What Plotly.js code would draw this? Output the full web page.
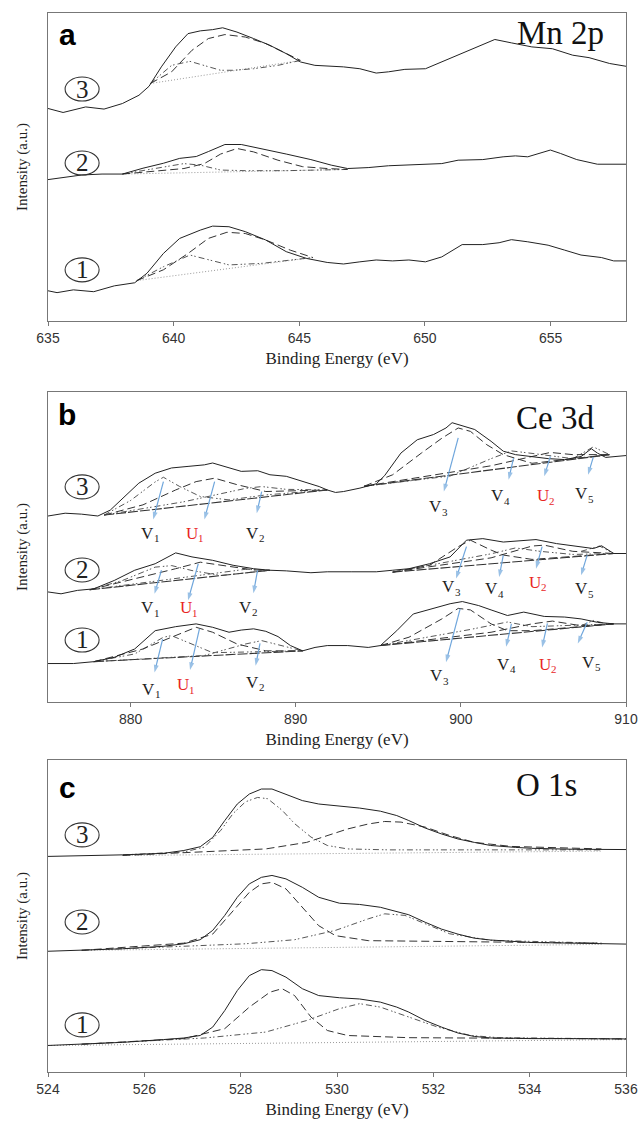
<!DOCTYPE html>
<html><head><meta charset="utf-8">
<script src="https://cdn.plot.ly/plotly-3.0.1.min.js"></script>
<style>html,body{margin:0;padding:0;background:#fff}</style>
</head><body><div id="chart" style="width:641px;height:1123px"></div>
<script>
// ---------- Panel a : Mn 2p ----------
const mnE3 = [635,635.6,636.5,637.23,637.96,638.62,639.02,639.51,640.08,640.57,641.06,641.55,641.95,642.52,643.18,643.83,644.48,645.05,645.62,646.11,646.76,647.41,648.06,648.55,649.2,650.02,650.67,651.48,652.13,652.78,653.44,654.25,655.07,655.88,656.53,657.35,658];
const mnI3 = [69.0,67.7,69.5,68.8,70.6,73.3,76.2,82.5,89.0,93.3,94.2,94.6,95.2,93.8,91.7,89.5,86.8,84.1,83.0,82.8,82.5,81.9,80.5,80.9,81.7,81.9,84.1,86.8,89.0,91.4,90.3,89.0,88.4,86.3,85.5,83.6,82.7];
const mnBaseE3 = [639.07,645.05], mnBaseI3 = [77.1,84.6];
const mnPkAE3 = [639.07,639.92,640.65,641.22,641.87,642.36,643.18,644.15,645.05];
const mnPkAI3 = [77.1,83.0,84.3,83.0,81.4,81.4,81.9,83.0,84.6];
const mnPkBE3 = [639.07,639.92,640.73,641.38,642.04,642.85,643.66,644.48,645.05];
const mnPkBI3 = [77.1,80.9,87.9,91.7,93.0,92.2,90.1,86.8,84.6];

const mnE2 = [635,635.68,636.34,637.15,637.96,638.78,639.59,640.24,640.9,641.38,642.04,642.69,643.5,644.48,645.46,646.27,646.92,647.74,648.55,649.36,650.02,650.67,651.32,652.3,653.11,653.6,654.09,654.58,654.99,655.39,656.04,656.86,657.51,658];
const mnI2 = [45.9,46.6,47.4,47.7,47.7,49.6,51.2,52.8,53.4,55.0,57.3,57.3,56.0,54.2,52.4,50.6,49.5,49.8,50.4,50.6,50.8,51.1,52.2,52.4,53.3,53.6,53.3,54.6,55.5,54.4,52.4,50.9,50.9,50.9];
const mnBaseE2 = [637.96,646.92], mnBaseI2 = [47.7,49.2];
const mnPkAE2 = [637.96,639.27,640.41,641.06,641.87,642.85,644.48,646.92];
const mnPkAI2 = [47.7,49.5,51.1,50.6,49.0,48.8,48.8,49.2];
const mnPkBE2 = [637.96,640.41,641.22,641.87,642.52,643.18,644.15,645.13,646.11,646.92];
const mnPkBI2 = [47.7,49.5,51.1,54.2,56.0,54.9,52.2,50.1,49.5,49.2];

const mnE1 = [635,635.36,636.01,636.82,637.64,638.45,638.94,639.59,640.24,641.06,641.55,642.2,642.85,643.66,644.48,645.29,646.11,646.76,647.41,648.06,648.71,649.36,650.02,650.67,651.48,652.3,652.95,653.44,654.09,654.9,655.56,656.21,657.02,657.51,658];
const mnI1 = [9.8,9.2,10.1,9.5,11.4,12.4,15.5,21.9,26.8,29.5,30.8,30.6,29.0,26.3,22.5,20.3,19.0,18.5,19.2,19.8,19.5,19.8,19.2,20.8,24.8,24.8,25.4,26.4,25.7,24.6,23.0,21.4,20.6,19.5,19.5];
const mnBaseE1 = [638.53,645.54], mnBaseI1 = [13.1,20.6];
const mnPkAE1 = [638.53,639.59,640.65,641.22,642.2,643.5,644.48,645.54];
const mnPkAI1 = [13.1,17.6,21.4,20.3,18.2,18.7,19.6,20.6];
const mnPkBE1 = [638.53,639.59,640.57,641.38,642.12,642.85,643.66,644.64,645.54];
const mnPkBI1 = [13.1,16.6,21.9,26.8,28.8,28.4,26.3,23.0,20.6];

// ---------- Panel b : Ce 3d ----------
const ceE3 = [875,876.04,877.03,878.02,878.77,879.51,880.5,881.49,882.48,883.48,884.47,884.97,885.71,886.7,887.7,888.44,889.43,890.42,891.42,891.91,892.41,892.9,893.89,894.88,895.38,896.37,897.36,898.35,899.1,899.47,900.09,900.84,901.83,902.57,903.31,904.31,905.3,906.29,907.28,907.9,908.27,908.77,909.51,910];
const ceI3 = [60.0,60.9,60.6,60.0,61.9,65.7,70.6,73.8,75.5,76.0,76.5,77.1,76.0,74.4,74.6,73.3,72.8,71.2,69.5,68.4,67.6,67.9,69.0,70.4,73.0,80.3,84.6,86.3,88.4,90.1,89.2,87.9,84.1,80.9,79.8,79.2,78.5,78.2,79.2,81.7,80.3,78.9,79.2,79.5];
const ceBaseLE3 = [878.4,891.91], ceBaseLI3 = [60.3,68.4];
const ceBaseRE3 = [894.14,909.0], ceBaseRI3 = [69.6,79.8];
const ceV1E3 = [878.4,880.0,881.49,881.99,882.98,884.22,885.96,888.19,891.91];
const ceV1I3 = [60.3,65.0,71.0,72.5,69.5,66.3,65.2,66.8,68.4];
const ceU1E3 = [878.4,880.75,882.73,883.97,885.09,886.45,888.19,891.91];
const ceU1I3 = [60.3,63.6,68.4,71.1,72.2,70.1,67.9,68.4];
const ceV2E3 = [878.4,883.23,886.95,887.94,889.43,891.91];
const ceV2I3 = [60.3,64.6,68.9,69.5,68.6,68.4];
const ceV3E3 = [894.14,895.87,897.61,898.85,899.84,900.58,901.57,902.57,904.31,909.0];
const ceV3I3 = [69.6,73.3,80.3,85.1,88.4,87.3,83.0,79.8,77.0,79.8];
const ceV4E3 = [894.14,899.35,901.83,903.06,904.31,906.78,909.0];
const ceV4I3 = [69.6,72.9,78.5,81.0,80.2,78.5,79.8];
const ceU2E3 = [894.14,901.83,904.31,905.42,906.78,909.0];
const ceU2I3 = [69.6,76.2,79.2,80.5,79.8,79.8];
const ceV5E3 = [906.78,908.02,909.0];
const ceV5I3 = [78.5,82.3,79.8];

const ceE2 = [875,875.79,876.78,877.77,879.01,880.25,881.49,882.73,883.72,884.97,886.21,887.45,888.44,889.43,890.92,891.91,893.4,894.88,895.87,896.86,898.1,899.35,900.34,901.33,902.57,903.81,904.55,905.79,907.28,908.02,908.52,909.26,910];
const ceI2 = [35.5,34.9,36.0,36.5,39.2,42.5,44.6,48.1,46.8,45.7,44.1,43.0,42.5,42.3,41.7,42.0,42.0,42.0,42.5,43.0,44.6,46.8,52.2,52.7,51.6,52.2,52.4,51.1,50.0,49.5,50.4,47.9,47.9];
const ceBaseLE2 = [877.53,888.44], ceBaseLI2 = [36.2,42.5];
const ceBaseRE2 = [895.87,909.26], ceBaseRI2 = [41.9,47.9];
const ceV1E2 = [877.53,879.51,881.49,882.49,883.72,885.46,888.44];
const ceV1I2 = [36.2,39.2,43.5,44.0,42.4,40.8,42.5];
const ceU1E2 = [877.53,880.75,882.73,884.22,885.71,887.45,888.44];
const ceU1I2 = [36.2,40.3,43.0,45.1,44.0,42.6,42.5];
const ceV2E2 = [877.53,883.23,886.95,888.44];
const ceV2I2 = [36.2,40.3,42.8,42.5];
const ceV3E2 = [895.87,898.1,899.84,900.58,901.83,902.57,904.31,909.26];
const ceV3I2 = [41.9,44.1,50.1,52.2,49.0,47.4,46.0,47.9];
const ceV4E2 = [895.87,899.35,901.83,903.31,904.8,906.78,909.26];
const ceV4I2 = [41.9,45.4,47.8,49.7,48.6,47.6,47.9];
const ceU2E2 = [895.87,901.83,904.31,905.05,906.78,909.26];
const ceU2I2 = [41.9,46.5,50.3,50.6,48.6,47.9];
const ceV5E2 = [907.28,908.4,909.26];
const ceV5I2 = [48.6,50.3,47.9];

const ceE1 = [875,876.54,877.77,879.01,880.25,881.49,882.73,883.97,884.97,885.96,886.7,887.45,888.19,888.93,889.68,890.42,891.17,891.91,893.15,894.39,895.13,896.12,897.12,898.35,899.35,900.09,901.08,901.83,902.82,903.81,905.05,906.29,907.28,908.27,909.26,910];
const ceI1 = [12.4,12.4,13.0,14.4,17.1,23.0,24.3,25.2,24.1,22.5,23.2,23.6,22.8,21.1,18.2,16.5,17.6,18.2,18.2,17.6,18.2,23.0,28.4,30.1,31.7,32.4,31.1,29.7,27.9,29.0,27.6,27.4,26.8,25.7,25.2,25.2];
const ceBaseLE1 = [877.77,890.42], ceBaseLI1 = [13.0,16.5];
const ceBaseRE1 = [895.13,909.26], ceBaseRI1 = [18.2,25.2];
const ceV1E1 = [877.77,880.25,881.99,882.48,883.48,884.97,890.42];
const ceV1I1 = [13.0,15.5,20.9,21.4,19.2,15.9,16.5];
const ceU1E1 = [877.77,880.75,882.48,883.97,884.97,886.45,888.19,890.42];
const ceU1I1 = [13.0,17.1,20.9,24.1,22.5,18.7,16.5,16.5];
const ceV2E1 = [877.77,884.47,886.95,887.94,889.43,890.42];
const ceV2I1 = [13.0,15.0,18.7,19.8,17.8,16.5];
const ceV3E1 = [895.13,896.86,898.85,899.84,900.58,901.83,902.82,904.31,909.26];
const ceV3I1 = [18.2,20.9,26.8,30.2,29.7,25.2,23.0,23.0,25.2];
const ceV4E1 = [895.13,900.58,902.82,903.56,904.31,909.26];
const ceV4I1 = [18.2,23.4,25.8,25.0,24.3,25.2];
const ceU2E1 = [895.13,901.83,904.31,905.54,907.28,909.26];
const ceU2I1 = [18.2,22.5,25.2,26.1,24.6,25.2];
const ceV5E1 = [907.28,908.02,909.01];
const ceV5I1 = [24.6,26.3,25.0];

// peak labels of panel b (letter + subscript)
const ceLabelLetters = ['V','U','V','V','V','U','V'];
const ceLabelSubs = ['1','1','2','3','4','2','5'];
const ceLabelE3 = [881.25,883.92,887.57,898.65,902.44,905.17,907.52];
const ceLabelI3 = [54.4,54.4,54.4,63.0,66.5,66.5,67.1];
const ceLabelE2 = [881.25,883.53,887.2,899.47,902.07,904.67,907.52];
const ceLabelI2 = [30.4,30.4,30.6,37.1,36.5,38.7,36.5];
const ceLabelE1 = [881.3,883.35,887.57,898.72,902.81,905.29,907.97];
const ceLabelI1 = [4.1,5.5,6.3,8.4,12.2,12.2,12.8];
const ceArrowFromE3 = [881.99,885.09,887.94,899.84,903.19,905.42,908.02];
const ceArrowFromI3 = [71.1,71.1,67.9,85.2,78.7,79.2,79.0];
const ceArrowToE3 = [881.37,884.47,887.64,898.97,902.89,905.05,907.7];
const ceArrowToI3 = [58.9,58.9,60.9,67.9,71.7,72.8,73.3];
const ceArrowFromE2 = [881.87,884.1,887.69,900.34,902.57,904.92,907.65];
const ceArrowFromI2 = [42.5,44.6,42.5,50.1,47.4,50.1,47.4];
const ceArrowToE2 = [881.45,883.48,887.44,899.71,902.32,904.55,907.28];
const ceArrowToI2 = [34.9,32.8,35.1,39.8,40.3,43.0,40.9];
const ceArrowFromE1 = [881.94,884.17,887.84,899.96,903.06,905.24,907.65];
const ceArrowFromI1 = [20.3,23.6,18.9,30.1,25.2,25.4,25.7];
const ceArrowToE1 = [881.45,883.6,887.57,899.1,902.74,904.92,907.08];
const ceArrowToI1 = [9.5,10.3,11.7,12.8,17.8,17.6,18.9];

// ---------- Panel c : O 1s ----------
const oE = [524,524.7,525.55,526.4,526.82,527.16,527.42,527.67,527.93,528.18,528.43,528.65,528.94,529.28,529.62,530.05,530.47,530.9,531.24,531.49,531.83,532.17,532.51,532.85,533.19,533.7,534.04,534.89,536];
const oI3 = [69.1,69.3,69.6,70.1,71.0,72.2,75.2,80.6,85.9,89.1,90.7,90.7,89.1,87.0,85.9,85.2,84.6,83.6,82.2,80.6,78.2,76.3,74.7,73.6,72.6,72.0,71.7,71.4,71.3];
const oBaseE3 = [525.55,535.49], oBaseI3 = [69.4,70.8];
const oPkAE3 = [525.55,526.82,527.25,527.59,527.84,528.1,528.35,528.56,528.86,529.12,529.46,529.8,530.22,531.07,535.49];
const oPkAI3 = [69.6,70.5,72.1,77.5,82.8,86.6,88.0,87.6,83.9,79.6,75.3,72.6,71.5,71.2,71.2];
const oPkBE3 = [525.55,527.25,528.52,529.37,530.22,530.65,530.99,531.33,531.83,532.34,532.85,533.62,535.49];
const oPkBI3 = [69.4,70.7,71.5,73.6,77.9,79.5,80.3,80.1,78.5,75.8,73.6,72.3,71.5];

const oI2 = [38.7,39.0,39.5,40.3,41.1,42.4,45.4,50.2,56.0,60.3,62.4,63.0,61.9,59.2,56.0,54.1,53.7,52.8,51.5,50.4,48.0,45.8,44.2,42.9,42.3,41.7,41.5,41.3,41.0];
const oBaseE2 = [524.7,535.49], oBaseI2 = [39.0,40.9];
const oPkAE2 = [524.7,526.82,527.42,527.84,528.18,528.43,528.65,528.94,529.28,529.62,529.97,530.65,535.49];
const oPkAI2 = [39.0,41.3,44.2,51.8,57.6,60.3,60.8,58.7,52.8,46.9,43.7,42.1,41.3];
const oPkBE2 = [524.7,528.1,529.12,529.97,530.65,530.99,531.41,531.92,532.34,533.19,535.49];
const oPkBI2 = [39.0,41.1,42.4,45.4,49.1,50.7,50.2,47.0,44.3,42.2,41.3];

const oI1 = [8.5,8.9,9.5,10.4,10.9,11.7,14.4,19.7,26.1,30.9,32.8,32.5,30.4,26.7,24.5,23.8,23.4,22.4,20.8,19.2,16.5,14.4,12.5,11.4,10.9,10.8,10.7,10.7,10.6];
const oBaseE1 = [524,536], oBaseI1 = [8.5,10.4];
const oPkAE1 = [524.7,526.82,527.67,528.18,528.61,528.86,529.12,529.46,529.8,530.22,531.49,536];
const oPkAI1 = [8.9,10.7,13.9,20.8,25.6,26.7,24.5,17.6,13.3,11.7,11.0,10.6];
const oPkBE1 = [524.7,527.25,528.52,529.37,530.05,530.47,530.9,531.49,532.09,532.77,533.36,536];
const oPkBI1 = [8.9,10.9,12.8,16.5,20.3,21.9,20.8,17.6,14.4,11.7,11.0,10.6];

const sampleLabels = ['3','2','1'];

// ---------- styles ----------
const ST = {
  solid:   {color:'#222', width:1.0},
  dash:    {color:'#333', width:1.0, dash:'8px,4px'},
  dashdot: {color:'#444', width:0.9, dash:'6px,3px,1.5px,2px,1.5px,3px'},
  dot:     {color:'#999', width:1.0, dash:'1px,2px'},
  base:    {color:'#333', width:1.1, dash:'10px,2px'}
};
const traces = [];
function tr(x, y, st, ax) {
  traces.push({x:x, y:y, type:'scatter', mode:'lines', line:ST[st], xaxis:'x'+ax, yaxis:'y'+ax, hoverinfo:'skip', showlegend:false});
}
// panel a
tr(mnBaseE3,mnBaseI3,'dot',''); tr(mnPkAE3,mnPkAI3,'dashdot',''); tr(mnPkBE3,mnPkBI3,'dash',''); tr(mnE3,mnI3,'solid','');
tr(mnBaseE2,mnBaseI2,'dot',''); tr(mnPkAE2,mnPkAI2,'dashdot',''); tr(mnPkBE2,mnPkBI2,'dash',''); tr(mnE2,mnI2,'solid','');
tr(mnBaseE1,mnBaseI1,'dot',''); tr(mnPkAE1,mnPkAI1,'dashdot',''); tr(mnPkBE1,mnPkBI1,'dash',''); tr(mnE1,mnI1,'solid','');
// panel b
[[ceBaseLE3,ceBaseLI3,ceBaseRE3,ceBaseRI3,ceV1E3,ceV1I3,ceU1E3,ceU1I3,ceV2E3,ceV2I3,ceV3E3,ceV3I3,ceV4E3,ceV4I3,ceU2E3,ceU2I3,ceV5E3,ceV5I3,ceE3,ceI3],
 [ceBaseLE2,ceBaseLI2,ceBaseRE2,ceBaseRI2,ceV1E2,ceV1I2,ceU1E2,ceU1I2,ceV2E2,ceV2I2,ceV3E2,ceV3I2,ceV4E2,ceV4I2,ceU2E2,ceU2I2,ceV5E2,ceV5I2,ceE2,ceI2],
 [ceBaseLE1,ceBaseLI1,ceBaseRE1,ceBaseRI1,ceV1E1,ceV1I1,ceU1E1,ceU1I1,ceV2E1,ceV2I1,ceV3E1,ceV3I1,ceV4E1,ceV4I1,ceU2E1,ceU2I1,ceV5E1,ceV5I1,ceE1,ceI1]
].forEach(s => {
  tr(s[0],s[1],'base','2'); tr(s[2],s[3],'base','2');
  tr(s[4],s[5],'dashdot','2'); tr(s[6],s[7],'dash','2'); tr(s[8],s[9],'dashdot','2');
  tr(s[10],s[11],'dash','2'); tr(s[12],s[13],'dashdot','2'); tr(s[14],s[15],'dash','2'); tr(s[16],s[17],'dashdot','2');
  tr(s[18],s[19],'solid','2');
});
// panel c
tr(oBaseE3,oBaseI3,'dot','3'); tr(oPkAE3,oPkAI3,'dashdot','3'); tr(oPkBE3,oPkBI3,'dash','3'); tr(oE,oI3,'solid','3');
tr(oBaseE2,oBaseI2,'dot','3'); tr(oPkAE2,oPkAI2,'dash','3'); tr(oPkBE2,oPkBI2,'dashdot','3'); tr(oE,oI2,'solid','3');
tr(oBaseE1,oBaseI1,'dot','3'); tr(oPkAE1,oPkAI1,'dash','3'); tr(oPkBE1,oPkBI1,'dashdot','3'); tr(oE,oI1,'solid','3');

// ---------- annotations & shapes ----------
const serif = 'Liberation Serif, Times New Roman, serif';
const ann = [], shapes = [];
const panels = [
  {ax:'', letter:'a', name:'Mn 2p', ys:[0.753,0.513,0.166], nx:0.886, ny:0.935, ly:0.929, h:308},
  {ax:'2', letter:'b', name:'Ce 3d', ys:[0.694,0.426,0.20], nx:0.877, ny:0.916, ly:0.926, h:310},
  {ax:'3', letter:'c', name:'O 1s', ys:[0.76,0.481,0.151], nx:0.863, ny:0.92, ly:0.913, h:312}
];
panels.forEach(p => {
  const xr = 'x'+p.ax+' domain', yr = 'y'+p.ax+' domain';
  ann.push({xref:xr, yref:yr, x:0.033, y:p.ly, xanchor:'center', yanchor:'middle', text:'<b>'+p.letter+'</b>', showarrow:false,
    font:{family:'Liberation Sans, Arial, sans-serif', size:30, color:'#000'}});
  ann.push({xref:xr, yref:yr, x:p.nx, y:p.ny, xanchor:'center', yanchor:'middle', text:p.name, showarrow:false,
    font:{family:serif, size:33, color:'#111'}});
  const dx = 17/578, dy = 12/p.h;
  sampleLabels.forEach((t,i) => {
    shapes.push({type:'circle', xref:xr, yref:yr, x0:0.059-dx, x1:0.059+dx, y0:p.ys[i]-dy, y1:p.ys[i]+dy,
      line:{color:'#333', width:1.1}, fillcolor:'rgba(0,0,0,0)'});
    ann.push({xref:xr, yref:yr, x:0.059, y:p.ys[i], xanchor:'center', yanchor:'middle', text:t, showarrow:false,
      font:{family:serif, size:25, color:'#222'}});
  });
});
const ceSets = [
  [ceLabelE3,ceLabelI3,ceArrowFromE3,ceArrowFromI3,ceArrowToE3,ceArrowToI3],
  [ceLabelE2,ceLabelI2,ceArrowFromE2,ceArrowFromI2,ceArrowToE2,ceArrowToI2],
  [ceLabelE1,ceLabelI1,ceArrowFromE1,ceArrowFromI1,ceArrowToE1,ceArrowToI1]
];
ceSets.forEach(s => {
  ceLabelLetters.forEach((lt,i) => {
    traces.push({x:[s[2][i], s[4][i]], y:[s[3][i], s[5][i]], type:'scatter', mode:'lines+markers',
      xaxis:'x2', yaxis:'y2', hoverinfo:'skip', showlegend:false,
      line:{color:'#6fa6dc', width:1.2},
      marker:{symbol:'arrow', size:[0,8], angleref:'previous', color:'#6fa6dc', line:{width:0}}});
    const col = lt === 'U' ? '#e8261f' : '#222';
    ann.push({xref:'x2', yref:'y2', x:s[0][i], y:s[1][i], xanchor:'right', yanchor:'middle', xshift:4, borderpad:0, text:lt, showarrow:false,
      font:{family:serif, size:17, color:col}});
    ann.push({xref:'x2', yref:'y2', x:s[0][i], y:s[1][i], xanchor:'left', yanchor:'middle', xshift:2, yshift:-5, borderpad:0, text:ceLabelSubs[i], showarrow:false,
      font:{family:serif, size:11, color:col}});
  });
});

// ---------- axes ----------
function xax(range, tickvals) {
  return {range:range, tickvals:tickvals, domain:[0,1], showline:true, mirror:true, linecolor:'#777', linewidth:1.4,
    ticks:'outside', ticklen:4, tickcolor:'#777', showgrid:false, zeroline:false,
    tickfont:{family:'Liberation Sans, Arial, sans-serif', size:14, color:'#333'},
    title:{text:'Binding Energy (eV)', font:{family:serif, size:17, color:'#222'}, standoff:7}};
}
function yax(dom, anchor) {
  return {range:[0,100], domain:dom, anchor:anchor, showline:true, mirror:true, linecolor:'#777', linewidth:1.4,
    showticklabels:false, ticks:'', showgrid:false, zeroline:false,
    title:{text:'Intensity (a.u.)', font:{family:serif, size:15, color:'#222'}, standoff:15}};
}
const layout = {
  width:641, height:1123, margin:{l:48, r:15, t:13, b:51},
  paper_bgcolor:'#fff', plot_bgcolor:'#fff', showlegend:false,
  xaxis: Object.assign(xax([635,658],[635,640,645,650,655]), {anchor:'y'}),
  yaxis: yax([0.7092,1.0],'x'),
  xaxis2: Object.assign(xax([875,910],[880,890,900,910]), {anchor:'y2'}),
  yaxis2: yax([0.3494,0.6421],'x2'),
  xaxis3: Object.assign(xax([524,536],[524,526,528,530,532,534,536]), {anchor:'y3'}),
  yaxis3: yax([0,0.2946],'x3'),
  annotations: ann, shapes: shapes
};
Plotly.newPlot('chart', traces, layout, {displayModeBar:false, staticPlot:true});
</script></body></html>
